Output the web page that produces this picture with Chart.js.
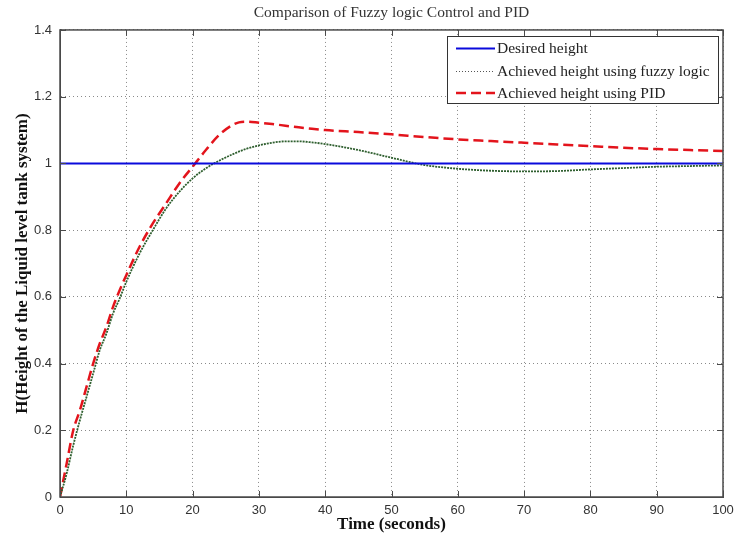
<!DOCTYPE html>
<html>
<head>
<meta charset="utf-8">
<script src="https://cdn.jsdelivr.net/npm/chart.js@4/dist/chart.umd.min.js"></script>
<style>
  html, body { margin: 0; padding: 0; background: #ffffff; }
  #wrap { width: 737px; height: 537px; }
</style>
</head>
<body>
<div id="wrap"><canvas id="c" width="737" height="537"></canvas></div>
<script>
// Time samples (seconds) and tank level responses
const timeDesired = [0, 100];
const levelDesired = [1, 1];

const timeFuzzy = [0, 1, 2, 3, 4, 5, 6, 7, 8, 9, 10, 12, 14, 16, 18, 20, 22, 24, 26, 28, 30, 32, 34, 36, 38, 40, 45, 50, 55, 60, 65, 70, 75, 80, 85, 90, 95, 100];
const levelFuzzy = [0, 0.07, 0.155, 0.23, 0.30, 0.37, 0.44, 0.49, 0.55, 0.595, 0.645, 0.73, 0.80, 0.865, 0.915, 0.955, 0.985, 1.008, 1.027, 1.043, 1.054, 1.062, 1.066, 1.066, 1.063, 1.058, 1.040, 1.017, 0.995, 0.984, 0.978, 0.976, 0.977, 0.982, 0.986, 0.990, 0.992, 0.994];

const timePID = [0, 1, 2, 3, 4, 5, 6, 7, 8, 9, 10, 12, 14, 16, 18, 20, 22, 24, 26, 27, 28, 30, 32, 34, 36, 38, 40, 45, 50, 55, 60, 65, 70, 75, 80, 85, 90, 95, 100];
const levelPID = [0, 0.10, 0.20, 0.26, 0.33, 0.40, 0.46, 0.51, 0.57, 0.62, 0.665, 0.75, 0.82, 0.88, 0.94, 0.99, 1.04, 1.085, 1.115, 1.123, 1.125, 1.122, 1.118, 1.113, 1.108, 1.104, 1.100, 1.094, 1.087, 1.079, 1.072, 1.067, 1.062, 1.057, 1.052, 1.047, 1.043, 1.040, 1.037];

const seriesNames = ['Desired height', 'Achieved height using fuzzy logic', 'Achieved height using PID'];
const xTicks = [0, 10, 20, 30, 40, 50, 60, 70, 80, 90, 100];
const yTicks = [0, 0.2, 0.4, 0.6, 0.8, 1, 1.2, 1.4];

const toPoints = (xs, ys) => xs.map((x, i) => ({ x: x, y: ys[i] }));

// Box frame, inward tick marks and an in-plot legend
const framePlugin = {
  id: 'frame',
  afterDatasetsDraw(chart) {
    const { ctx, chartArea: a, scales: { x, y } } = chart;
    ctx.save();
    ctx.strokeStyle = '#4a4a4a';
    ctx.lineWidth = 1;
    ctx.setLineDash([]);
    ctx.beginPath();
    xTicks.forEach(v => {
      const px = Math.round(x.getPixelForValue(v)) + 0.5;
      ctx.moveTo(px, a.bottom); ctx.lineTo(px, a.bottom - 6);
      ctx.moveTo(px, a.top); ctx.lineTo(px, a.top + 6);
    });
    yTicks.forEach(v => {
      const py = Math.round(y.getPixelForValue(v)) + 0.5;
      ctx.moveTo(a.left, py); ctx.lineTo(a.left + 6, py);
      ctx.moveTo(a.right, py); ctx.lineTo(a.right - 6, py);
    });
    ctx.stroke();
    ctx.lineWidth = 1.5;
    ctx.strokeRect(a.left, a.top, a.right - a.left, a.bottom - a.top);

    // legend
    const bx = 447, by = 36, bw = 271, bh = 67;
    ctx.fillStyle = '#ffffff';
    ctx.fillRect(bx, by, bw, bh);
    ctx.lineWidth = 1;
    ctx.strokeStyle = '#333333';
    ctx.strokeRect(bx + 0.5, by + 0.5, bw, bh);
    const rows = [48.5, 71.5, 93];
    ctx.font = '15.5px "Liberation Serif", serif';
    ctx.textBaseline = 'middle';
    chart.data.datasets.forEach((ds, i) => {
      ctx.save();
      ctx.strokeStyle = i === 1 ? '#555555' : ds.borderColor;
      ctx.lineWidth = i === 1 ? 1 : ds.borderWidth;
      ctx.setLineDash(i === 1 ? [1, 2] : (ds.borderDash || []));
      ctx.beginPath();
      ctx.moveTo(456, rows[i]);
      ctx.lineTo(495, rows[i]);
      ctx.stroke();
      ctx.restore();
      ctx.fillStyle = '#222222';
      ctx.fillText(ds.label, 497, rows[i] + 0.5);
    });
    ctx.restore();
  }
};

new Chart(document.getElementById('c'), {
  type: 'line',
  data: {
    datasets: [
      {
        label: seriesNames[0],
        data: toPoints(timeDesired, levelDesired),
        borderColor: '#0a0adc',
        borderWidth: 2,
        pointRadius: 0,
        tension: 0
      },
      {
        label: seriesNames[1],
        data: toPoints(timeFuzzy, levelFuzzy),
        borderColor: '#2f5f2f',
        borderWidth: 1.8,
        borderDash: [2, 1],
        pointRadius: 0,
        cubicInterpolationMode: 'monotone'
      },
      {
        label: seriesNames[2],
        data: toPoints(timePID, levelPID),
        borderColor: '#e3141c',
        borderWidth: 2.5,
        borderDash: [10, 5],
        pointRadius: 0,
        cubicInterpolationMode: 'monotone'
      }
    ]
  },
  options: {
    responsive: false,
    animation: false,
    layout: { padding: { top: 0, right: 14, left: 0, bottom: 0 } },
    plugins: {
      legend: { display: false },
      tooltip: { enabled: false },
      title: {
        display: true,
        fullSize: false,
        text: 'Comparison of Fuzzy logic Control and PID',
        color: '#333333',
        font: { family: '"Liberation Serif", serif', size: 15.5, weight: 'normal', lineHeight: 1.1 },
        padding: { top: 4, bottom: 8.9 }
      }
    },
    scales: {
      x: {
        type: 'linear',
        min: 0,
        max: 100,
        afterFit(s) { s.height = 40; s.paddingLeft = 0; s.paddingRight = 0; },
        afterBuildTicks(s) { s.ticks = xTicks.map(v => ({ value: v })); },
        grid: { color: '#8a8a8a', lineWidth: 1, drawTicks: false },
        border: { display: true, color: '#4a4a4a', dash: [1, 3] },
        ticks: {
          color: '#333333',
          padding: 6,
          maxRotation: 0,
          font: { family: '"Liberation Sans", Arial, sans-serif', size: 13 }
        },
        title: {
          display: true,
          text: 'Time (seconds)',
          color: '#111111',
          font: { family: '"Liberation Serif", serif', size: 17, weight: 'bold' },
          padding: { top: 0, bottom: 2 }
        }
      },
      y: {
        type: 'linear',
        min: 0,
        max: 1.4,
        afterFit(s) { s.width = 60; s.paddingTop = 0; s.paddingBottom = 0; },
        afterBuildTicks(s) { s.ticks = yTicks.map(v => ({ value: v })); },
        grid: { color: '#8a8a8a', lineWidth: 1, drawTicks: false },
        border: { display: true, color: '#4a4a4a', dash: [1, 3] },
        ticks: {
          color: '#333333',
          padding: 8,
          callback: v => String(Math.round(v * 10) / 10),
          font: { family: '"Liberation Sans", Arial, sans-serif', size: 13 }
        },
        title: {
          display: true,
          text: 'H(Height of the Liquid level tank system)',
          color: '#111111',
          font: { family: '"Liberation Serif", serif', size: 17, weight: 'bold' },
          padding: { top: 12, bottom: 0 }
        }
      }
    }
  },
  plugins: [framePlugin]
});
</script>
</body>
</html>
